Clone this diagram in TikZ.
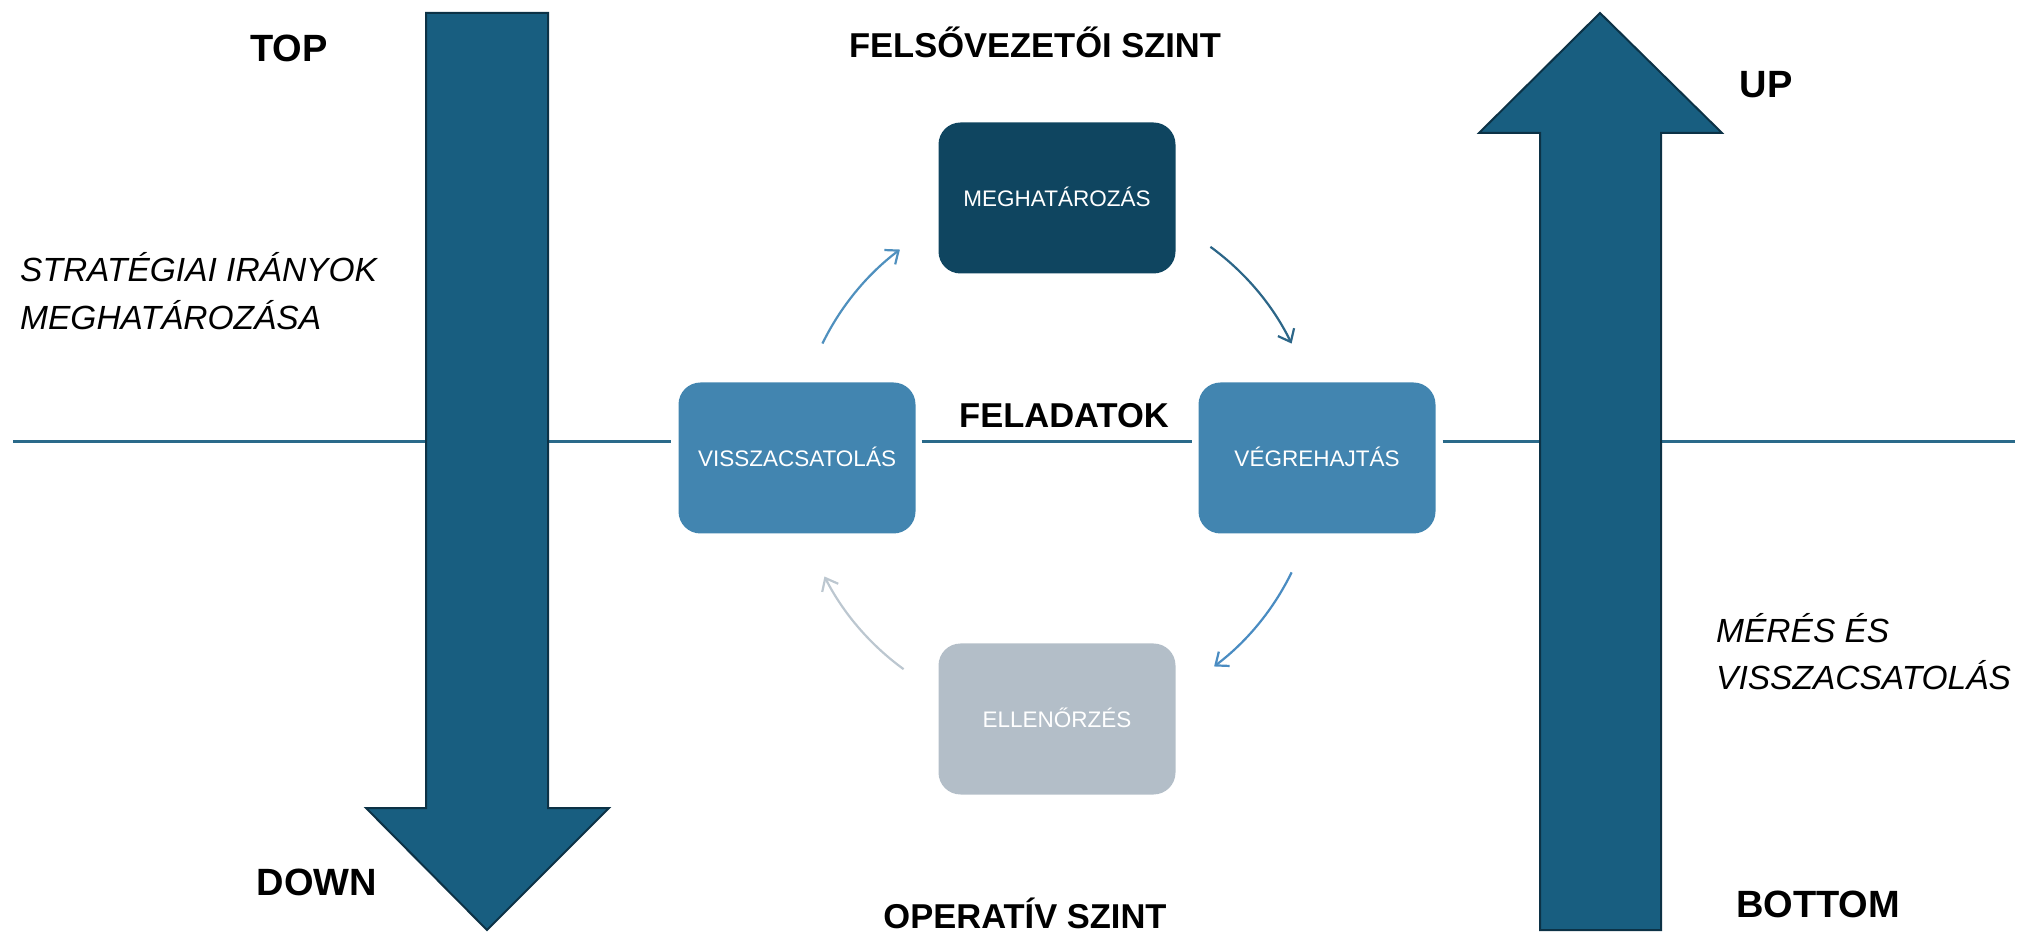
\documentclass[tikz,border=0pt]{standalone}
\usepackage{fontspec}
\setmainfont{Liberation Sans}
\usetikzlibrary{arrows.meta,calc}
\definecolor{bigarrow}{HTML}{185E80}
\definecolor{bigedge}{HTML}{0C3246}
\definecolor{boxdark}{HTML}{0F4560}
\definecolor{boxmid}{HTML}{4285B0}
\definecolor{boxgrey}{HTML}{B3BEC8}
\definecolor{hl}{HTML}{2A6A8A}
\definecolor{arcA}{HTML}{4F90BE}
\definecolor{arcB}{HTML}{2C6688}
\definecolor{arcC}{HTML}{4A8CC2}
\definecolor{arcD}{HTML}{BCC7D0}
\begin{document}
\begin{tikzpicture}[x=1pt,y=1pt,
  stepbox/.style={rounded corners=22pt, minimum width=237pt, minimum height=151pt,
    text=white, font=\fontsize{22.5}{27}\selectfont, inner sep=0pt,
    text height=16.1pt, text depth=0pt},
  hdr/.style={font=\bfseries\fontsize{34.5}{40}\selectfont, text=black, inner sep=0pt, anchor=base},
  side/.style={font=\bfseries\fontsize{38}{44}\selectfont, text=black, inner sep=0pt, anchor=base},
  note/.style={font=\itshape\fontsize{33.5}{48}\selectfont, anchor=base west, inner sep=0pt},
  bigarr/.style={fill=bigarrow, draw=bigedge, line width=2pt, line join=miter},
  hline/.style={draw=hl, line width=3pt},
  cyc/.style={line width=2.2pt, -{Straight Barb[length=11pt,width=18pt,line width=2.2pt]}}
]
\useasboundingbox (0,0) rectangle (2021,932);

% horizontal level line end points
\coordinate (Lw) at (13,490);
\coordinate (Le) at (2015,490);

% boxes
\node[stepbox, fill=boxdark] (meg) at (1057,734) {MEGHATÁROZÁS};
\node[stepbox, fill=boxmid]  (vis) at (797,474)  {VISSZACSATOLÁS};
\node[stepbox, fill=boxmid]  (veg) at (1317,474) {VÉGREHAJTÁS};
\node[stepbox, fill=boxgrey] (ell) at (1057,213) {ELLENŐRZÉS};

% level line
\draw[hline, shorten >=7pt] (Lw) -- (vis.west |- Lw);
\draw[hline, shorten <=6pt, shorten >=6pt] (vis.east |- Lw) -- (veg.west |- Lw);
\draw[hline, shorten <=7pt] (veg.east |- Lw) -- (Le);

% big arrows
\draw[bigarr] (426,919) -- (548,919) -- (548,124) -- (609,124) -- (487,2) -- (366,124) -- (426,124) -- cycle;
\draw[bigarr] (1540,2) -- (1661,2) -- (1661,799) -- (1722,799) -- (1600,919) -- (1479,799) -- (1540,799) -- cycle;

% cycle arrows
\coordinate (cc) at (1057,474);
\coordinate (a1s) at ($(cc)+(154:261)$);
\coordinate (a2s) at ($(cc)+(54:261)$);
\coordinate (a3s) at ($(cc)+(-26:261)$);
\coordinate (a4s) at ($(cc)+(-126:261)$);
\draw[cyc, arcA] (a1s) arc[start angle=154, end angle=127, radius=261];
\draw[cyc, arcB] (a2s) arc[start angle=54, end angle=26, radius=261];
\draw[cyc, arcC] (a3s) arc[start angle=-26, end angle=-53, radius=261];
\draw[cyc, arcD] (a4s) arc[start angle=-126, end angle=-153, radius=261];

% headings
\node[hdr] (felso) at (1035,874) {FELSŐVEZETŐI SZINT};
\node[hdr] (feladat) at (1064,504) {FELADATOK};
\node[hdr] (oper) at (1025,4) {OPERATÍV SZINT};

\node[side] (top) at (289,870) {TOP};
\node[side] (down) at (317,37) {DOWN};
\node[side] (up) at (1766,834) {UP};
\node[side] (bottom) at (1818,15) {BOTTOM};

% notes
\node[note] (s1) at (20,650) {STRATÉGIAI IRÁNYOK};
\node[note] (s2) at (20,602) {MEGHATÁROZÁSA};
\node[note] (m1) at (1716,289) {MÉRÉS ÉS};
\node[note] (m2) at (1716,242) {VISSZACSATOLÁS};
\end{tikzpicture}
\end{document}
